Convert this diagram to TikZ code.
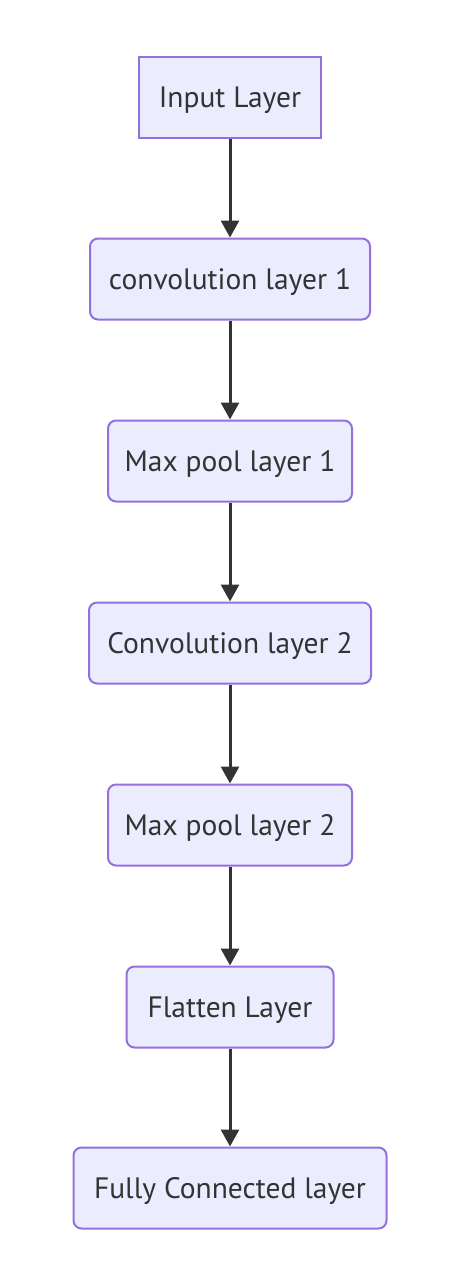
\documentclass[tikz,border=0pt]{standalone}
\usepackage{fontspec}
\setmainfont{PT Sans}
\usetikzlibrary{arrows.meta}
\definecolor{nodefill}{HTML}{ECECFF}
\definecolor{nodeborder}{HTML}{9370DB}
\definecolor{txt}{HTML}{333333}
\tikzset{
  layerbox/.style={draw=nodeborder, fill=nodefill, line width=2pt, minimum height=81pt,
    inner sep=0pt, text=txt, text depth=0pt, font=\fontsize{29.5}{34}\selectfont, rounded corners=8pt},
  conn/.style={draw=txt, line width=3pt, -{Triangle[length=17pt,width=18pt]}}
}
\begin{document}
\begin{tikzpicture}[x=1pt,y=-1pt]
\useasboundingbox (0,0) rectangle (456,1288);
\node[layerbox, rounded corners=0pt, minimum width=182pt] (n1) at (230,97) {Input Layer};
\node[layerbox, minimum width=280pt] (n2) at (230,279) {convolution layer 1};
\node[layerbox, minimum width=244pt] (n3) at (230,461) {Max pool layer 1};
\node[layerbox, minimum width=282pt] (n4) at (230,643) {Convolution layer 2};
\node[layerbox, minimum width=244pt] (n5) at (230,825) {Max pool layer 2};
\node[layerbox, minimum width=207pt] (n6) at (230,1007) {Flatten Layer};
\node[layerbox, minimum width=313pt] (n7) at (230,1188) {Fully Connected layer};
\foreach \a/\b in {n1/n2,n2/n3,n3/n4,n4/n5,n5/n6,n6/n7}
  \draw[conn] (\a) -- (\b);
\end{tikzpicture}
\end{document}
